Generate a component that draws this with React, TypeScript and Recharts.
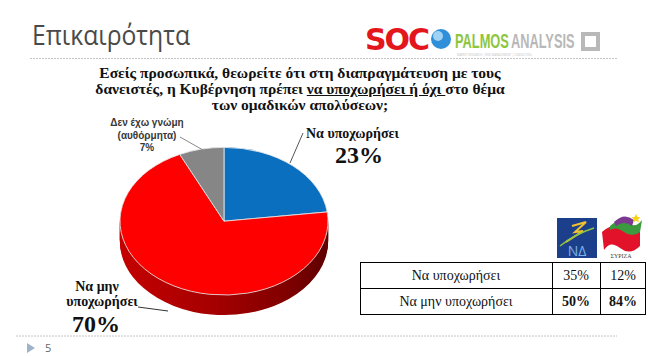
import { PieChart, Pie, Cell } from 'recharts';

const categories = ['Να υποχωρήσει', 'Να μην υποχωρήσει', 'Δεν έχω γνώμη'];
const shares = [23, 70, 7];
const faceColors = ['#0b6fc0', '#ff0000', '#868686'];
const wallColors = ['#074a86', 'url(#redWall)', '#5a5a5a'];

const tableRows = ['Να υποχωρήσει', 'Να μην υποχωρήσει'];
const ndShares = [35, 50];
const syrizaShares = [12, 84];

// pie is drawn round and squashed to look tilted
const TILT = 0.71;
const R = 104;
const WALL_OFFSETS = [28, 26, 24, 22, 20, 18, 16, 14, 12, 10, 8, 6, 4, 2];

const pieData = categories.map((name, i) => ({ name, value: shares[i] }));

const serif = '"Liberation Serif", "DejaVu Serif", serif';
const sans = '"Open Sans", "Noto Sans", sans-serif';

function Logos() {
  return (
    <g>
      <text x={365} y={50} fontFamily='"DejaVu Sans", sans-serif' fontWeight={900} fontSize={30} fill="#e3161b" letterSpacing={-2}>
        SOC
      </text>
      <circle cx={441} cy={39} r={10} fill="#2f8fd8" />
      <circle cx={438} cy={36} r={5} fill="#9fd2f5" />
      <g fontFamily='"Liberation Sans", sans-serif' fontWeight={700} fontSize={20}>
        <text transform="translate(455 48) scale(0.64 1)" fill="#8dc63f">
          PALMOS
        </text>
        <text transform="translate(511 48) scale(0.64 1)" fill="#b8b8b8">
          ANALYSIS
        </text>
      </g>
      <rect x={583} y={34} width={15} height={15} fill="none" stroke="#b8b8b8" strokeWidth={4} />
      <text x={457} y={56} fontFamily={sans} fontSize={2.8} fill="#c4c4c4">
        MARKET RESEARCH | RISK MANAGEMENT | CONSULTING
      </text>
    </g>
  );
}

function PartyLogos() {
  return (
    <g>
      <rect x={557} y={218} width={40} height={40} fill="#1c3f8c" />
      <path d="M572 226 L586 222 L575 232 L583 231 L566 242" stroke="#f2c12e" strokeWidth={2} fill="none" />
      <path d="M560 246 Q575 234 594 228" stroke="#8fc640" strokeWidth={1.5} fill="none" />
      <text x={577} y={256} textAnchor="middle" fontFamily={sans} fontSize={14} fill="#7fb2e8">
        ΝΔ
      </text>
      <path d="M602 232 Q612 222 622 230 Q632 238 640 226 L640 246 Q630 256 620 248 Q610 240 604 250 Z" fill="#e1122a" />
      <path d="M610 226 Q620 216 630 224 Q636 228 642 220 L640 232 Q632 238 624 232 Q616 226 610 230 Z" fill="#3b9a3e" />
      <path d="M614 222 Q624 212 634 220 L632 226 Q624 220 616 226 Z" fill="#7b3a8f" />
      <path d="M636 214 l1.5 3 3 0.3 -2.3 2 0.8 3 -3 -1.6 -3 1.6 0.8 -3 -2.3 -2 3 -0.3z" fill="#f7d417" />
      <text x={621} y={258} textAnchor="middle" fontFamily={serif} fontSize={6} fill="#444">
        ΣΥΡΙΖΑ
      </text>
    </g>
  );
}

export default function App() {
  return (
    <div style={{ position: 'relative', width: 648, height: 356, background: '#fff', overflow: 'hidden' }}>
      <style>{'body { margin: 0; }'}</style>
      <div
        style={{
          position: 'absolute',
          left: 224 - 120,
          top: 221 - 120 * TILT,
          transform: `scaleY(${TILT})`,
          transformOrigin: '0 0',
        }}
      >
        <PieChart width={240} height={260} margin={{ top: 0, right: 0, bottom: 0, left: 0 }}>
          {WALL_OFFSETS.map((off) => (
            <Pie
              key={off}
              data={pieData}
              dataKey="value"
              cx={120}
              cy={120 + off}
              outerRadius={R - 1}
              startAngle={90}
              endAngle={-270}
              strokeWidth={2.4}
              isAnimationActive={false}
            >
              {pieData.map((d, i) => (
                <Cell key={d.name} fill={wallColors[i]} stroke={wallColors[i]} />
              ))}
            </Pie>
          ))}
          <Pie
            data={pieData}
            dataKey="value"
            cx={120}
            cy={120}
            outerRadius={R}
            startAngle={90}
            endAngle={-270}
            stroke="#e6e6e6"
            strokeWidth={1}
            isAnimationActive={false}
          >
            {pieData.map((d, i) => (
              <Cell key={d.name} fill={faceColors[i]} />
            ))}
          </Pie>
        </PieChart>
      </div>

      <div
        style={{
          position: 'absolute',
          left: 70,
          top: 65,
          width: 460,
          textAlign: 'center',
          fontFamily: serif,
          fontWeight: 700,
          fontSize: 15.5,
          lineHeight: '16px',
          color: '#111',
        }}
      >
        Εσείς προσωπικά, θεωρείτε ότι στη διαπραγμάτευση με τους
        <br />
        δανειστές, η Κυβέρνηση πρέπει <u>να υποχωρήσει ή όχι </u>στο θέμα
        <br />
        των ομαδικών απολύσεων;
      </div>

      <svg width={648} height={356} style={{ position: 'absolute', left: 0, top: 0 }}>
        <defs>
          <linearGradient id="redWall" gradientUnits="userSpaceOnUse" x1={16} y1={0} x2={224} y2={0}>
            <stop offset="0" stopColor="#c40000" />
            <stop offset="0.45" stopColor="#a50000" />
            <stop offset="0.8" stopColor="#800000" />
            <stop offset="1" stopColor="#5e0000" />
          </linearGradient>
        </defs>

        <text x={32} y={45} fontFamily={sans} fontSize={27} fill="#4a4a4a" textLength={158} lengthAdjust="spacingAndGlyphs">
          Επικαιρότητα
        </text>
        <Logos />
        <line x1={30} y1={58.5} x2={617} y2={58.5} stroke="#c4c4c4" strokeDasharray="2 1" />

        {/* gray slice label */}
        <line x1={180} y1={137} x2={203} y2={150} stroke="#8a8a8a" strokeWidth={1} />
        <g fontFamily='"Liberation Sans", sans-serif' fontWeight={700} fontSize={10} fill="#383838" textAnchor="middle">
          <text x={147} y={126}>{categories[2]}</text>
          <text x={147} y={138.5}>(αυθόρμητα)</text>
          <text x={147} y={150.5}>{shares[2]}%</text>
        </g>

        {/* blue slice label */}
        <line x1={303} y1={133} x2={290} y2={163} stroke="#555" strokeWidth={1} />
        <g fontFamily={serif} fontWeight={700} fill="#111">
          <text x={306} y={137.5} fontSize={14}>{categories[0]}</text>
          <text x={359} y={163} fontSize={24} textAnchor="middle">{shares[0]}%</text>
        </g>

        {/* red slice label */}
        <line x1={138} y1={307} x2={168} y2={311} stroke="#333" strokeWidth={1} />
        <g fontFamily={serif} fontWeight={700} fill="#111" textAnchor="middle">
          <text x={97} y={291} fontSize={14}>Να μην</text>
          <text x={102} y={306} fontSize={14}>υποχωρήσει</text>
          <text x={96} y={332} fontSize={24}>{shares[1]}%</text>
        </g>

        <PartyLogos />

        {/* table */}
        <g stroke="#000" strokeWidth={1}>
          <line x1={360} y1={262.5} x2={646} y2={262.5} />
          <line x1={360} y1={288.5} x2={646} y2={288.5} />
          <line x1={360} y1={314.5} x2={646} y2={314.5} />
          <line x1={360.5} y1={262} x2={360.5} y2={315} />
          <line x1={552.5} y1={262} x2={552.5} y2={315} />
          <line x1={600.5} y1={262} x2={600.5} y2={315} />
          <line x1={645.5} y1={262} x2={645.5} y2={315} />
        </g>
        <g fontFamily={serif} fontSize={14} fill="#111" textAnchor="middle">
          {tableRows.map((row, i) => (
            <g key={row} fontWeight={i === 1 ? 700 : 400}>
              <text x={456} y={280 + i * 26} fontWeight={400}>{row}</text>
              <text x={576} y={280 + i * 26}>{ndShares[i]}%</text>
              <text x={623} y={280 + i * 26}>{syrizaShares[i]}%</text>
            </g>
          ))}
        </g>

        <line x1={16} y1={336} x2={617} y2={336} stroke="#c4c4c4" strokeDasharray="2 1" />
        <path d="M27 343 L35 348 L27 353 Z" fill="#9fb3c8" />
        <text x={45} y={352} fontFamily={sans} fontSize={11} fill="#666">
          5
        </text>
      </svg>
    </div>
  );
}
